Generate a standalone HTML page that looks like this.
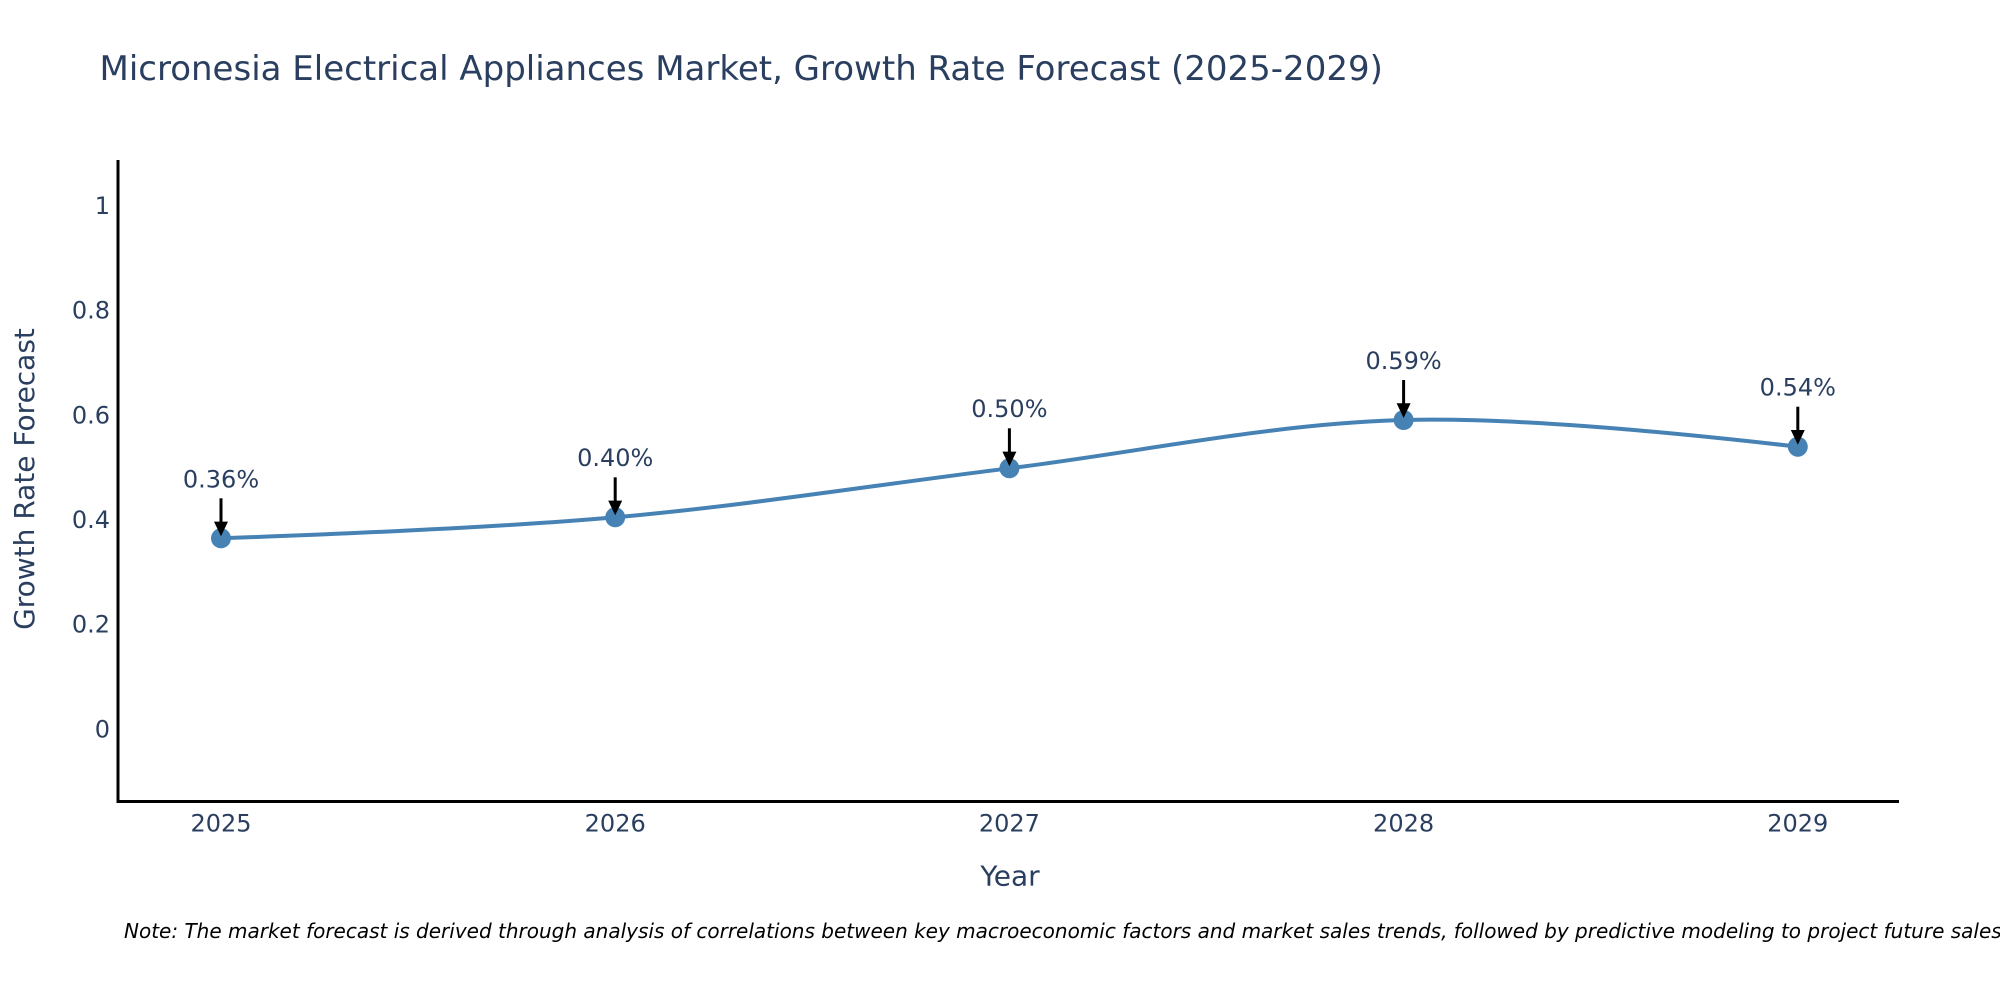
<!DOCTYPE html>
<html>
<head>
<meta charset="utf-8">
<style>
  html, body { margin: 0; padding: 0; background: #ffffff; }
  svg { display: block; }
  text { font-family: "DejaVu Sans", "Liberation Sans", sans-serif; }
</style>
</head>
<body>
<svg width="2000" height="1000" viewBox="0 0 2000 1000" xmlns="http://www.w3.org/2000/svg">
  <rect x="0" y="0" width="2000" height="1000" fill="#ffffff"/>

  <!-- Title -->
  <text x="99.5" y="80" font-size="34" fill="#2a3f5f">Micronesia Electrical Appliances Market, Growth Rate Forecast (2025-2029)</text>

  <!-- Y tick labels -->
  <g font-size="24" fill="#2a3f5f" text-anchor="end">
    <text x="110" y="737.3">0</text>
    <text x="110" y="632.6">0.2</text>
    <text x="110" y="528.0">0.4</text>
    <text x="110" y="423.3">0.6</text>
    <text x="110" y="318.7">0.8</text>
    <text x="110" y="214.0">1</text>
  </g>

  <!-- X tick labels -->
  <g font-size="24" fill="#2a3f5f" text-anchor="middle">
    <text x="221" y="831.7">2025</text>
    <text x="615.2" y="831.7">2026</text>
    <text x="1009.4" y="831.7">2027</text>
    <text x="1403.6" y="831.7">2028</text>
    <text x="1797.8" y="831.7">2029</text>
  </g>

  <!-- Axis titles -->
  <text x="1010" y="885.7" font-size="28" fill="#2a3f5f" text-anchor="middle">Year</text>
  <text transform="translate(34,479) rotate(-90)" x="0" y="0" font-size="28" fill="#2a3f5f" text-anchor="middle">Growth Rate Forecast</text>

  <!-- Series line (spline) -->
  <path d="M221,538.3 Q484.0,528.93 615.2,517.3 C746.8,505.63 878.0,484.52 1009.4,468.3 C1140.8,452.09 1272.0,423.57 1403.6,420 Q1534.8,416.44 1797.8,446.7"
        fill="none" stroke="#4682b4" stroke-width="4" stroke-linejoin="round" stroke-linecap="round"/>

  <!-- Markers -->
  <g fill="#4682b4">
    <circle cx="221" cy="538.3" r="10"/>
    <circle cx="615.2" cy="517.3" r="10"/>
    <circle cx="1009.4" cy="468.3" r="10"/>
    <circle cx="1403.6" cy="420" r="10"/>
    <circle cx="1797.8" cy="446.7" r="10"/>
  </g>

  <!-- Axes lines -->
  <line x1="118" y1="160" x2="118" y2="803" stroke="#000" stroke-width="3"/>
  <line x1="116.5" y1="801.5" x2="1899" y2="801.5" stroke="#000" stroke-width="3"/>

  <!-- Annotations: arrows -->
  <g stroke="#000" stroke-width="3" fill="none">
    <line x1="221" y1="498.3" x2="221" y2="524"/>
    <line x1="615.2" y1="477.3" x2="615.2" y2="503"/>
    <line x1="1009.4" y1="428.3" x2="1009.4" y2="454"/>
    <line x1="1403.6" y1="380" x2="1403.6" y2="406"/>
    <line x1="1797.8" y1="406.7" x2="1797.8" y2="432"/>
  </g>
  <g fill="#000">
    <polygon points="221,536.3 214,521.6 228,521.6"/>
    <polygon points="615.2,515.3 608.2,500.6 622.2,500.6"/>
    <polygon points="1009.4,466.3 1002.4,451.6 1016.4,451.6"/>
    <polygon points="1403.6,418 1396.6,403.3 1410.6,403.3"/>
    <polygon points="1797.8,444.7 1790.8,430 1804.8,430"/>
  </g>

  <!-- Annotations: labels -->
  <g font-size="24" fill="#2a3f5f" text-anchor="middle">
    <text x="221" y="487.3">0.36%</text>
    <text x="615.2" y="466">0.40%</text>
    <text x="1009.4" y="417">0.50%</text>
    <text x="1403.6" y="369">0.59%</text>
    <text x="1797.8" y="395.5">0.54%</text>
  </g>

  <!-- Note -->
  <text x="124" y="938" font-size="20" font-style="italic" fill="#000">Note: The market forecast is derived through analysis of correlations between key macroeconomic factors and market sales trends, followed by predictive modeling to project future sales.</text>
</svg>
</body>
</html>
